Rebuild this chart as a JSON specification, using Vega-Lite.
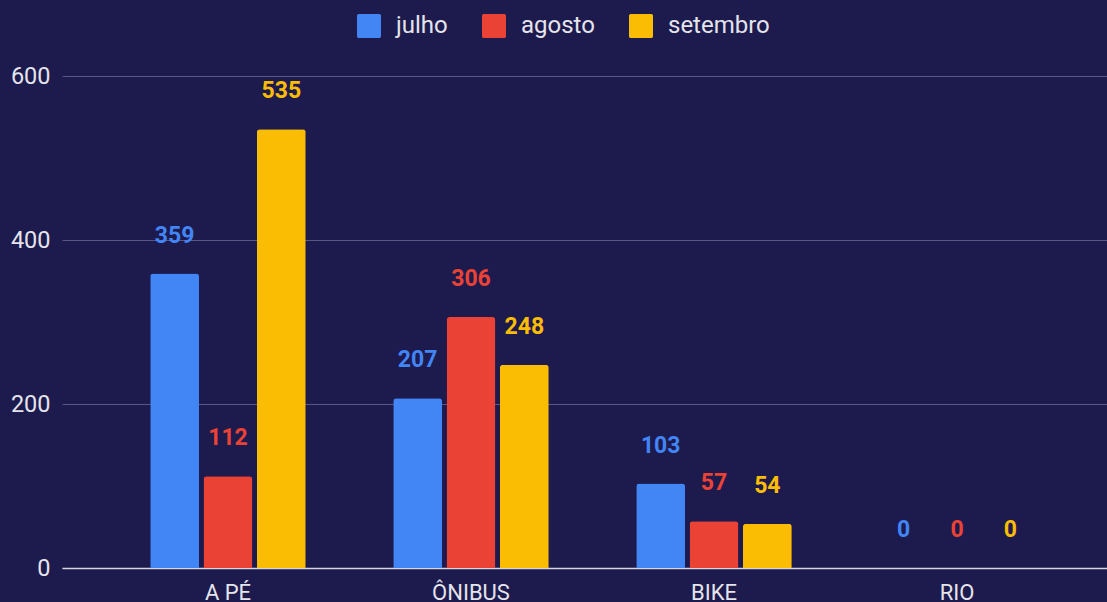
{
  "$schema": "https://vega.github.io/schema/vega-lite/v6.json",
  "width": 1045,
  "height": 492,
  "autosize": {"type": "none"},
  "padding": {"left": 62, "top": 76, "right": 0, "bottom": 34},
  "background": "#1d1a4e",
  "config": {
    "view": {"stroke": null},
    "font": "Roboto"
  },
  "data": {
    "values": [
      {"modo": "A PÉ", "mes": "julho", "valor": 359},
      {"modo": "A PÉ", "mes": "agosto", "valor": 112},
      {"modo": "A PÉ", "mes": "setembro", "valor": 535},
      {"modo": "ÔNIBUS", "mes": "julho", "valor": 207},
      {"modo": "ÔNIBUS", "mes": "agosto", "valor": 306},
      {"modo": "ÔNIBUS", "mes": "setembro", "valor": 248},
      {"modo": "BIKE", "mes": "julho", "valor": 103},
      {"modo": "BIKE", "mes": "agosto", "valor": 57},
      {"modo": "BIKE", "mes": "setembro", "valor": 54},
      {"modo": "RIO", "mes": "julho", "valor": 0},
      {"modo": "RIO", "mes": "agosto", "valor": 0},
      {"modo": "RIO", "mes": "setembro", "valor": 0}
    ]
  },
  "encoding": {
    "x": {
      "field": "modo",
      "type": "nominal",
      "sort": ["A PÉ", "ÔNIBUS", "BIKE", "RIO"],
      "scale": {"paddingInner": 0.36, "paddingOuter": 0.33, "align": 0.55},
      "axis": {
        "title": null,
        "labelAngle": 0,
        "labelFontSize": 22,
        "labelColor": "#e4e4ea",
        "labelPadding": 14,
        "ticks": false,
        "domainColor": "#d8d8e0",
        "domainWidth": 1.5,
        "grid": false
      }
    },
    "xOffset": {
      "field": "mes",
      "type": "nominal",
      "sort": ["julho", "agosto", "setembro"],
      "scale": {"paddingInner": 0.084, "paddingOuter": 0}
    },
    "y": {
      "field": "valor",
      "type": "quantitative",
      "scale": {"domain": [0, 600], "nice": false},
      "axis": {
        "title": null,
        "values": [0, 200, 400, 600],
        "labelFontSize": 23.5,
        "labelColor": "#e4e4ea",
        "labelPadding": 12,
        "ticks": false,
        "domain": false,
        "gridColor": "#5a5782",
        "gridWidth": 1
      }
    },
    "color": {
      "field": "mes",
      "type": "nominal",
      "sort": ["julho", "agosto", "setembro"],
      "scale": {"domain": ["julho", "agosto", "setembro"], "range": ["#4285f4", "#ea4335", "#fbbc04"]},
      "legend": {
        "title": null,
        "orient": "none",
        "direction": "horizontal",
        "legendX": 295,
        "legendY": -62,
        "symbolType": "M-0.85,-1H0.85A0.15,0.15 0 0 1 1,-0.85V0.85A0.15,0.15 0 0 1 0.85,1H-0.85A0.15,0.15 0 0 1 -1,0.85V-0.85A0.15,0.15 0 0 1 -0.85,-1Z",
        "symbolSize": 576,
        "symbolStrokeWidth": 0,
        "labelFontSize": 24,
        "labelColor": "#e4e4ea",
        "labelOffset": 15,
        "columnPadding": 34,
        "padding": 0
      }
    }
  },
  "layer": [
    {
      "mark": {"type": "bar", "cornerRadiusTopLeft": 3, "cornerRadiusTopRight": 3}
    },
    {
      "mark": {"type": "text", "baseline": "alphabetic", "dy": -31, "fontSize": 23, "fontWeight": "bold"},
      "encoding": {
        "text": {"field": "valor", "type": "quantitative"}
      }
    }
  ]
}
